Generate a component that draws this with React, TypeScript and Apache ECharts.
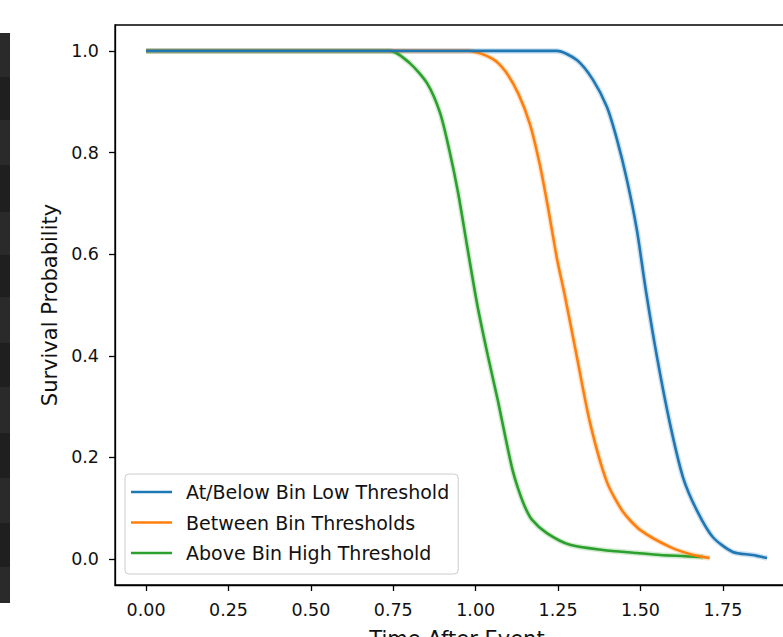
import React, { useEffect, useRef } from "react";
import * as echarts from "echarts";

const seriesNames = [
  "At/Below Bin Low Threshold",
  "Between Bin Thresholds",
  "Above Bin High Threshold",
];
const seriesColors = ["#1f77b4", "#ff7f0e", "#2ca02c"];

const lowTime = [0, 1.246, 1.307, 1.356, 1.398, 1.429, 1.459, 1.489, 1.516, 1.55, 1.589, 1.629, 1.671, 1.72, 1.78, 1.84, 1.884];
const lowSurv = [1, 1, 0.982, 0.943, 0.89, 0.825, 0.746, 0.648, 0.53, 0.398, 0.268, 0.161, 0.096, 0.043, 0.014, 0.008, 0.002];

const midTime = [0, 0.98, 1.05, 1.09, 1.13, 1.165, 1.195, 1.22, 1.247, 1.27, 1.307, 1.347, 1.398, 1.447, 1.5, 1.589, 1.66, 1.71];
const midSurv = [1, 1, 0.985, 0.96, 0.915, 0.855, 0.775, 0.69, 0.59, 0.52, 0.398, 0.268, 0.152, 0.093, 0.057, 0.024, 0.008, 0.002];

const highTime = [0, 0.74, 0.8, 0.852, 0.892, 0.92, 0.947, 0.973, 1.005, 1.037, 1.068, 1.095, 1.112, 1.128, 1.148, 1.17, 1.216, 1.286, 1.386, 1.489, 1.559, 1.69];
const highSurv = [1, 1, 0.976, 0.937, 0.878, 0.805, 0.72, 0.62, 0.5, 0.4, 0.31, 0.225, 0.175, 0.14, 0.105, 0.078, 0.051, 0.028, 0.018, 0.012, 0.008, 0.004];

const xTicks = [0, 0.25, 0.5, 0.75, 1.0, 1.25, 1.5, 1.75];
const yTicks = [0, 0.2, 0.4, 0.6, 0.8, 1.0];

const FONT = "DejaVu Sans";

function pairs(t: number[], s: number[]) {
  return t.map((v, i) => [v, s[i]]);
}

export default function App() {
  const ref = useRef<HTMLDivElement>(null);
  useEffect(() => {
    if (!ref.current) return;
    const chart = echarts.init(ref.current, undefined, { renderer: "svg" });
    const data = [pairs(lowTime, lowSurv), pairs(midTime, midSurv), pairs(highTime, highSurv)];

    const strip: any[] = [];
    const bandEdges = [33, 77, 120, 165, 212, 255, 297, 343, 387, 433, 478, 523, 567, 603];
    for (let i = 0; i < bandEdges.length - 1; i++) {
      strip.push({
        type: "rect",
        shape: { x: 0, y: bandEdges[i], width: 10, height: bandEdges[i + 1] - bandEdges[i] },
        style: { fill: i % 2 === 0 ? "#2a2a2a" : "#1f1f1f" },
        silent: true,
      });
    }

    const halo = data.map((d, i) => ({
      name: seriesNames[i] + " CI",
      type: "line",
      data: d,
      symbol: "none",
      showSymbol: false,
      smooth: 0.25,
      silent: true,
      lineStyle: { color: seriesColors[i], width: 5.5, opacity: 0.22 },
      z: 2,
    }));

    chart.setOption({
      animation: false,
      backgroundColor: "#ffffff",
      textStyle: { fontFamily: FONT },
      graphic: strip,
      grid: {
        left: 115,
        top: 25,
        width: 684,
        height: 560,
        containLabel: false,
        outerBoundsMode: "none",
        show: true,
        borderColor: "#000",
        borderWidth: 1.3,
        backgroundColor: "transparent",
      },
      legend: {
        data: seriesNames.map((n, i) => ({
          name: n,
          icon: "path://M0,0 L41,0 L41,2.6 L0,2.6 Z",
          itemStyle: { color: seriesColors[i] },
        })),
        orient: "vertical",
        left: 125,
        top: 474,
        itemWidth: 41,
        itemHeight: 19,
        itemGap: 11.5,
        padding: [8.5, 9, 11.5, 6],
        backgroundColor: "rgba(255,255,255,0.8)",
        borderColor: "#cccccc",
        borderWidth: 1,
        borderRadius: 4,
        textStyle: { fontSize: 19, color: "#111", fontFamily: FONT, padding: [0, 0, 0, 9] },
      },
      xAxis: {
        type: "value",
        min: -0.0943,
        max: 1.981,
        splitLine: { show: false },
        axisLine: { show: true, onZero: false, lineStyle: { color: "#000", width: 1.3 } },
        axisTick: { show: true, length: 6, customValues: xTicks, lineStyle: { color: "#000", width: 1.3 } },
        axisLabel: {
          customValues: xTicks,
          formatter: (v: number) => v.toFixed(2),
          fontSize: 17.5,
          color: "#111",
          margin: 16,
          fontFamily: FONT,
        },
        name: "Time After Event",
        nameLocation: "middle",
        nameGap: 43.5,
        nameTextStyle: { fontSize: 21, color: "#111", fontFamily: FONT },
      },
      yAxis: {
        type: "value",
        min: -0.051,
        max: 1.051,
        splitLine: { show: false },
        axisLine: { show: true, onZero: false, lineStyle: { color: "#000", width: 1.3 } },
        axisTick: { show: true, length: 6, customValues: yTicks, lineStyle: { color: "#000", width: 1.3 } },
        axisLabel: {
          customValues: yTicks,
          formatter: (v: number) => v.toFixed(1),
          fontSize: 17.5,
          color: "#111",
          margin: 16,
          fontFamily: FONT,
        },
        name: "Survival Probability",
        nameLocation: "middle",
        nameGap: 54,
        nameRotate: 90,
        nameTextStyle: { fontSize: 21, color: "#111", fontFamily: FONT },
      },
      series: [
        ...halo,
        ...data.map((d, i) => ({
          name: seriesNames[i],
          type: "line",
          data: d,
          symbol: "none",
          showSymbol: false,
          smooth: 0.25,
          color: seriesColors[i],
          lineStyle: { color: seriesColors[i], width: 2.6 },
          z: 3 + (2 - i),
        })),
      ],
    });
    return () => chart.dispose();
  }, []);
  return (
    <div
      ref={ref}
      style={{ position: "fixed", left: 0, top: 0, width: 783, height: 637, background: "#fff" }}
    />
  );
}
